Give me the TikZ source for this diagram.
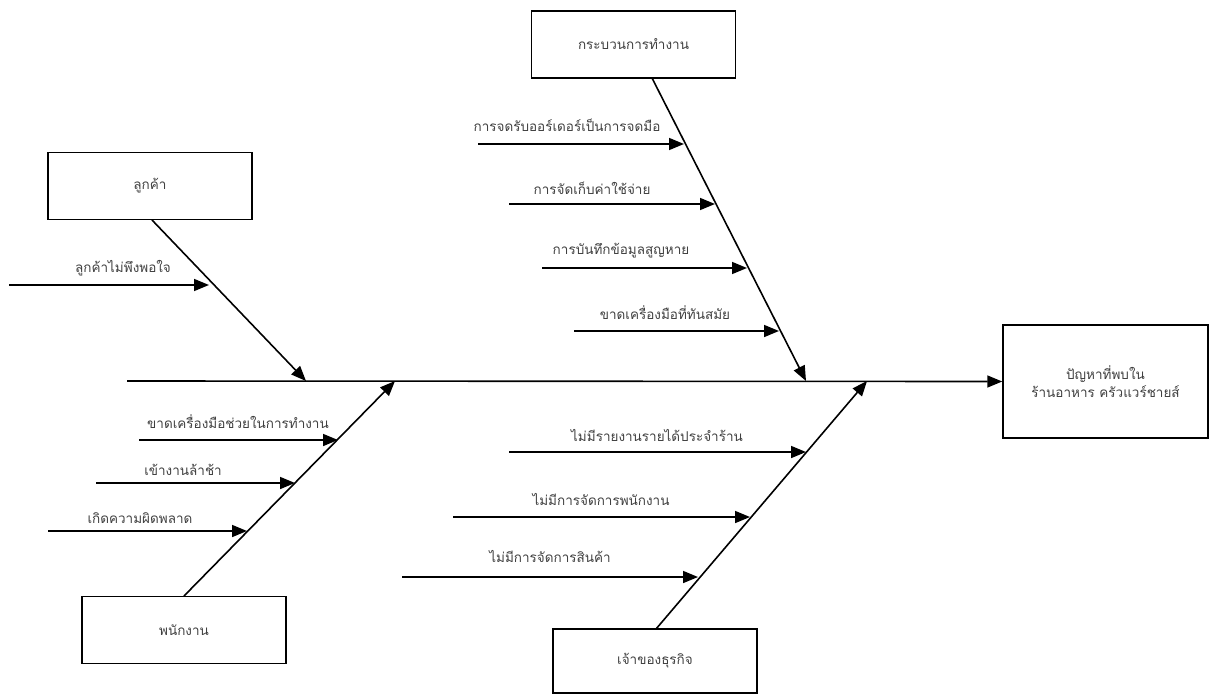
\documentclass[tikz,border=0pt]{standalone}
\usepackage{fontspec}
\newfontfamily\thaifont[Script=Thai]{Loma}
\usetikzlibrary{arrows.meta}
\begin{document}
\begin{tikzpicture}[x=1pt,y=-1pt,
  every node/.style={font=\thaifont\fontsize{13.5}{18}\selectfont, text=black!75},
  box/.style={draw=black, line width=1.5pt, minimum width=204pt, minimum height=67pt, inner sep=0pt, align=center},
  bone/.style={line width=1.6pt, -{Triangle[length=15pt,width=12pt]}},
  lbl/.style={inner sep=0pt, anchor=center}]
\useasboundingbox (0,0) rectangle (1215,696);
% boxes
\node[box] (cust) at (150,186) {ลูกค้า};
\node[box] (emp) at (184,630) {พนักงาน};
\node[box] (proc) at (633.5,44.5) {กระบวนการทำงาน};
\node[box, minimum height=64pt] (own) at (655,661) {\raisebox{3pt}{เจ้าของธุรกิจ}};
\node[box, minimum width=205pt, minimum height=113pt, align=center] (eff) at (1105.5,381.5) {ปัญหาที่พบใน\\ร้านอาหาร ครัวแวร์ชายส์};
% spine
\coordinate (s0) at (127,381);
\draw[bone] (s0) -- (eff.west);
% main bones
\coordinate (cTop) at (152,220); \coordinate (cTip) at (306,381);
\coordinate (eBot) at (184,596); \coordinate (eTip) at (395,381);
\coordinate (pTop) at (652,78); \coordinate (pTip) at (806,381);
\coordinate (oBot) at (656,629); \coordinate (oTip) at (867,381);
\draw[bone] (cTop) -- (cTip);
\draw[bone] (eBot) -- (eTip);
\draw[bone] (pTop) -- (pTip);
\draw[bone] (oBot) -- (oTip);
% customer sub cause
\coordinate (c1s) at (9,285); \coordinate (c1t) at (209,285);
\draw[bone] (c1s) -- (c1t);
\node[lbl] (c1l) at (123,268) {ลูกค้าไม่พึงพอใจ};
% employee sub causes
\coordinate (e1s) at (139,440); \coordinate (e1t) at (338,440);
\coordinate (e2s) at (96,483); \coordinate (e2t) at (295,483);
\coordinate (e3s) at (48,531); \coordinate (e3t) at (247,531);
\draw[bone] (e1s) -- (e1t);
\draw[bone] (e2s) -- (e2t);
\draw[bone] (e3s) -- (e3t);
\node[lbl] (e1l) at (238,422) {ขาดเครื่องมือช่วยในการทำงาน};
\node[lbl] (e2l) at (183,470) {เข้างานล้าช้า};
\node[lbl] (e3l) at (140,518) {เกิดความผิดพลาด};
% process sub causes
\coordinate (p1s) at (478,144); \coordinate (p1t) at (684,144);
\coordinate (p2s) at (509,204); \coordinate (p2t) at (715,204);
\coordinate (p3s) at (542,268); \coordinate (p3t) at (747,268);
\coordinate (p4s) at (574,331); \coordinate (p4t) at (779,331);
\draw[bone] (p1s) -- (p1t);
\draw[bone] (p2s) -- (p2t);
\draw[bone] (p3s) -- (p3t);
\draw[bone] (p4s) -- (p4t);
\node[lbl] (p1l) at (567,125) {การจดรับออร์เดอร์เป็นการจดมือ};
\node[lbl] (p2l) at (592,188) {การจัดเก็บค่าใช้จ่าย};
\node[lbl] (p3l) at (621,251) {การบันทึกข้อมูลสูญหาย};
\node[lbl] (p4l) at (665,313) {ขาดเครื่องมือที่ทันสมัย};
% owner sub causes
\coordinate (o1s) at (509,452); \coordinate (o1t) at (806,452);
\coordinate (o2s) at (453,517); \coordinate (o2t) at (750,517);
\coordinate (o3s) at (402,577); \coordinate (o3t) at (698,577);
\draw[bone] (o1s) -- (o1t);
\draw[bone] (o2s) -- (o2t);
\draw[bone] (o3s) -- (o3t);
\node[lbl] (o1l) at (657,435) {ไม่มีรายงานรายได้ประจำร้าน};
\node[lbl] (o2l) at (601,499) {ไม่มีการจัดการพนักงาน};
\node[lbl] (o3l) at (550,556) {ไม่มีการจัดการสินค้า};
\end{tikzpicture}
\end{document}
